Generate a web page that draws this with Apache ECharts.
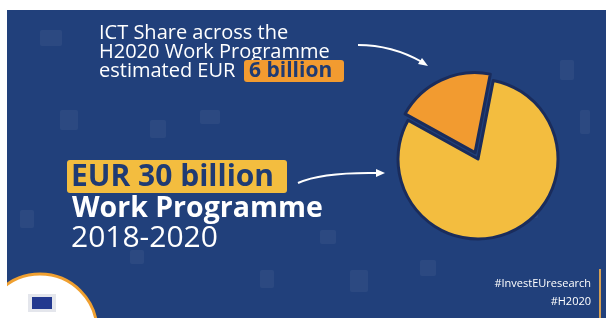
<!doctype html>
<html><head><meta charset="utf-8" />
<style>html,body,#app{margin:0;padding:0;width:606px;height:318px;background:#fff}</style>
</head><body><div id="app"></div>
<script src="https://cdn.jsdelivr.net/npm/echarts@6/dist/echarts.min.js"></script>
<script>
// shares of the 2018-2020 work programme, EUR billion
var sliceNames = ['Rest of Work Programme', 'ICT share'];
var sliceValues = [24, 6];
var sliceColors = ['#f3bd3f', '#f29b30'];
var headLines = ['ICT Share across the', 'H2020 Work Programme', 'estimated EUR'];
var ictBadge = '6 billion';
var totalBadge = 'EUR 30 billion';
var wpTitle = 'Work Programme';
var wpYears = '2018-2020';
var tags = ['#InvestEUresearch', '#H2020'];

(function(){
  var chart = echarts.init(document.getElementById('app'));
  var BLUE = '#21407b', FONT = '"Open Sans", sans-serif';

  var g = [];
  g.push({ type:'rect', z:-10, shape:{ x:7, y:10, width:599, height:308 }, style:{ fill:BLUE } });
  // faint background icons
  var faint = [[40,30,22,16],[60,110,18,20],[150,120,16,18],[200,110,20,14],[20,210,14,18],[350,270,18,22],[420,260,16,16],[520,200,18,18],[560,60,14,20],[320,230,16,14],[260,270,14,18],[540,140,14,18],[580,110,10,24],[130,250,14,14]];
  faint.forEach(function(f){
    g.push({ type:'rect', z:-9, shape:{ x:f[0], y:f[1], width:f[2], height:f[3], r:2 }, style:{ fill:'rgba(255,255,255,0.05)' } });
  });

  headLines.forEach(function(t, i){
    g.push({ type:'text', style:{ text:t, x:99, y:33 + i*19, fill:'#ffffff', font:'20px ' + FONT, textVerticalAlign:'middle' } });
  });
  g.push({ type:'rect', shape:{ x:244, y:60, width:100, height:22, r:3 }, style:{ fill:'#f29b30' } });
  g.push({ type:'text', style:{ text:ictBadge, x:249, y:71, fill:'#1f3b73', font:'bold 21px ' + FONT, textVerticalAlign:'middle' } });

  g.push({ type:'rect', shape:{ x:67, y:160, width:220, height:33, r:3 }, style:{ fill:'#f3bd3f' } });
  g.push({ type:'text', style:{ text:totalBadge, x:71, y:177, fill:'#1f3b73', font:'bold 30px ' + FONT, textVerticalAlign:'middle' } });
  g.push({ type:'text', style:{ text:wpTitle, x:72, y:209, fill:'#ffffff', font:'bold 28.5px ' + FONT, textVerticalAlign:'middle' } });
  g.push({ type:'text', style:{ text:wpYears, x:71, y:238, fill:'#ffffff', font:'30px ' + FONT, textVerticalAlign:'middle' } });

  // arrows
  g.push({ type:'bezierCurve', shape:{ x1:358, y1:45, x2:422, y2:62, cpx1:392, cpy1:45 }, style:{ stroke:'#ffffff', lineWidth:2, fill:null } });
  g.push({ type:'polygon', shape:{ points:[[428,66],[418,64],[422,58]] }, style:{ fill:'#ffffff' } });
  g.push({ type:'bezierCurve', shape:{ x1:298, y1:183, x2:378, y2:173, cpx1:322, cpy1:172 }, style:{ stroke:'#ffffff', lineWidth:2, fill:null } });
  g.push({ type:'polygon', shape:{ points:[[385,173],[376,169],[376,177]] }, style:{ fill:'#ffffff' } });

  // hashtags
  tags.forEach(function(t, i){
    g.push({ type:'text', style:{ text:t, x:591, y:284 + i*18, fill:'#ffffff', font:'11px ' + FONT, textAlign:'right', textVerticalAlign:'middle' } });
  });
  g.push({ type:'rect', shape:{ x:599, y:269, width:2, height:49 }, style:{ fill:'#d6a052' } });

  // EU logo
  g.push({ type:'circle', shape:{ cx:40, cy:331, r:57 }, style:{ fill:'#ffffff', stroke:'#f0a030', lineWidth:3 } });
  g.push({ type:'rect', shape:{ x:28, y:294, width:28, height:18 }, style:{ fill:'#e4e6ec' } });
  g.push({ type:'rect', shape:{ x:32, y:297, width:20, height:12 }, style:{ fill:'#23398f' } });
  g.push({ type:'rect', shape:{ x:0, y:0, width:7, height:318 }, style:{ fill:'#ffffff' } });

  chart.setOption({
    backgroundColor:'#ffffff',
    animation:false,
    graphic:g,
    series:[{
      type:'pie',
      center:[478, 159],
      radius:80,
      startAngle:79,
      clockwise:true,
      selectedMode:'single',
      selectedOffset:7,
      label:{ show:false },
      labelLine:{ show:false },
      emphasis:{ disabled:true },
      itemStyle:{ borderColor:'#1a2c5c', borderWidth:3 },
      data:sliceNames.map(function(n, i){
        return { name:n, value:sliceValues[i], selected:i === 1, itemStyle:{ color:sliceColors[i] } };
      })
    }]
  });
})();
</script></body></html>
